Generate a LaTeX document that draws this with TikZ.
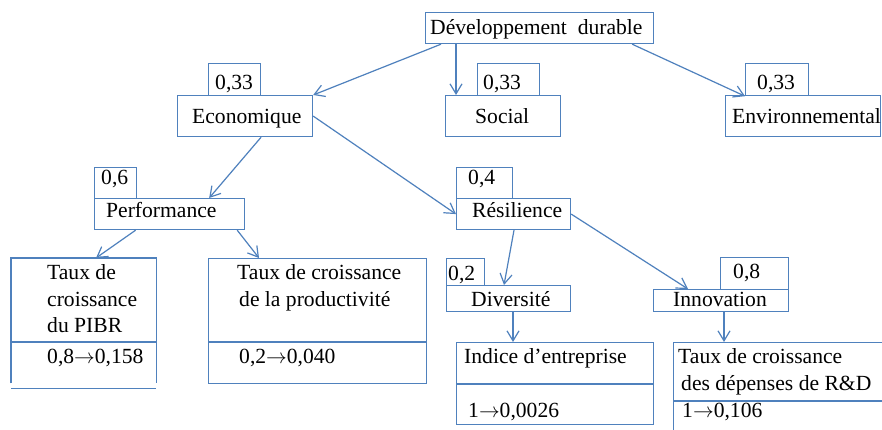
\documentclass[tikz,border=0pt]{standalone}
\usepackage{fontspec}
\setmainfont{Liberation Serif}
\usetikzlibrary{arrows.meta}
\definecolor{lineblue}{RGB}{79,129,189}
\newcommand{\arr}{$\rightarrow$}
\tikzset{
  bx/.style={draw=lineblue, line width=1.2pt, inner sep=0pt, anchor=north west},
  ghost/.style={inner sep=0pt, anchor=north west},
  lbl/.style={inner sep=0pt, anchor=base west, text=black, font=\rmfamily\fontsize{21.6pt}{26pt}\selectfont},
  conn/.style={draw=lineblue, line width=1.2pt, -{Straight Barb[length=10pt,width=12pt]}},
  edge/.style={draw=lineblue, line width=1.2pt},
}
\begin{document}
\begin{tikzpicture}[x=1pt,y=-1pt]
\clip (0,0) rectangle (882,430);
\fill[white] (0,0) rectangle (882,430);

% boxes
\node[bx, minimum width=228pt, minimum height=31pt] (dd) at (425,12) {};
\node[bx, minimum width=52pt, minimum height=32pt] (ecow) at (208,63) {};
\node[bx, minimum width=135pt, minimum height=41pt] (eco) at (177,95) {};
\node[bx, minimum width=62pt, minimum height=32pt] (socw) at (477,63) {};
\node[bx, minimum width=115pt, minimum height=41pt] (soc) at (445,95) {};
\node[bx, minimum width=63pt, minimum height=32pt] (envw) at (745,63) {};
\node[bx, minimum width=155pt, minimum height=41pt] (env) at (725,95) {};
\node[bx, minimum width=42pt, minimum height=31pt] (perfw) at (94,167) {};
\node[bx, minimum width=150pt, minimum height=31pt] (perf) at (94,198) {};
\node[bx, minimum width=56pt, minimum height=31pt] (resw) at (456,167) {};
\node[bx, minimum width=114pt, minimum height=31pt] (res) at (456,198) {};
\node[bx, minimum width=38pt, minimum height=27pt] (divw) at (446,258) {};
\node[bx, minimum width=124pt, minimum height=26pt] (div) at (446,285) {};
\node[bx, minimum width=68pt, minimum height=32pt] (innw) at (720,257) {};
\node[bx, minimum width=135pt, minimum height=22pt] (inn) at (653,289) {};

% PIBR box (open bottom, separate base line)
\node[ghost, minimum width=145pt, minimum height=125pt] (pibr) at (11,258) {};
\draw[edge] (pibr.south west) -- (pibr.north west) -- (pibr.north east) -- (pibr.south east);
\draw[edge] ([yshift=-5pt]pibr.south west) -- ([yshift=-5pt]pibr.south east);
\draw[edge] ([yshift=-84pt]pibr.north west) -- ([yshift=-84pt]pibr.north east);

\node[bx, minimum width=218pt, minimum height=125pt] (prod) at (208,258) {};
\draw[edge] ([yshift=-84pt]prod.north west) -- ([yshift=-84pt]prod.north east);

\node[bx, minimum width=197pt, minimum height=82pt] (ind) at (456,342) {};
\draw[edge] ([yshift=-42pt]ind.north west) -- ([yshift=-42pt]ind.north east);

\node[bx, minimum width=230pt, minimum height=110pt] (rd) at (673,342) {};
\draw[edge] ([yshift=-59pt]rd.north west) -- ([yshift=-59pt]rd.north east);

% texts
\node[lbl] (tdd) at (430,35) {Développement~ durable};
\node[lbl] (tecow) at (215,90) {0,33};
\node[lbl] (teco) at (192,124) {Economique};
\node[lbl] (tsocw) at (483,90) {0,33};
\node[lbl] (tsoc) at (475,124) {Social};
\node[lbl] (tenvw) at (757,90) {0,33};
\node[lbl] (tenv) at (732,124) {Environnemental};
\node[lbl] (tperfw) at (101,185) {0,6};
\node[lbl] (tperf) at (106,218) {Performance};
\node[lbl] (tresw) at (468,185) {0,4};
\node[lbl] (tres) at (472,218) {Résilience};
\node[lbl] (tdivw) at (448,280) {0,2};
\node[lbl] (tdiv) at (471,306) {Diversité};
\node[lbl] (tinnw) at (733,278) {0,8};
\node[lbl] (tinn) at (673,306) {Innovation};

\node[lbl] (tp1) at (47,279) {Taux de};
\node[lbl] (tp2) at (47,306) {croissance};
\node[lbl] (tp3) at (47,332) {du PIBR};
\node[lbl] (tp4) at (47,363) {0,8\arr0,158};

\node[lbl] (tq1) at (237,279) {Taux de croissance};
\node[lbl] (tq2) at (239,306) {de la productivité};
\node[lbl] (tq3) at (239,363) {0,2\arr0,040};

\node[lbl] (ti1) at (464,363) {Indice d’entreprise};
\node[lbl] (ti2) at (468,417) {1\arr0,0026};

\node[lbl] (tr1) at (678,363) {Taux de croissance};
\node[lbl] (tr2) at (681,390) {des dépenses de R\&D};
\node[lbl] (tr3) at (682,417) {1\arr0,106};

% connectors
\draw[conn] ([xshift=16pt]dd.south west) -- (eco.north east);
\draw[conn] ([xshift=31pt]dd.south west) -- ([xshift=11pt]soc.north west);
\draw[conn] ([xshift=-22pt]dd.south east) -- (envw.south west);
\draw[conn] ([xshift=16pt]eco.south) -- ([xshift=-36pt]perf.north east);
\draw[conn] (eco.east) -- (res.west);
\draw[conn] ([xshift=-34pt]perf.south) -- ([xshift=85pt]pibr.north west);
\draw[conn] ([xshift=-8pt]perf.south east) -- ([xshift=51pt]prod.north west);
\draw[conn] ([xshift=58pt]res.south west) -- ([xshift=58pt]div.north west);
\draw[conn] (res.east) -- ([xshift=35pt]inn.north west);
\draw[conn] ([xshift=67pt]div.south west) -- ([xshift=57pt]ind.north west);
\draw[conn] ([xshift=71pt]inn.south west) -- ([xshift=51pt]rd.north west);
\end{tikzpicture}
\end{document}
